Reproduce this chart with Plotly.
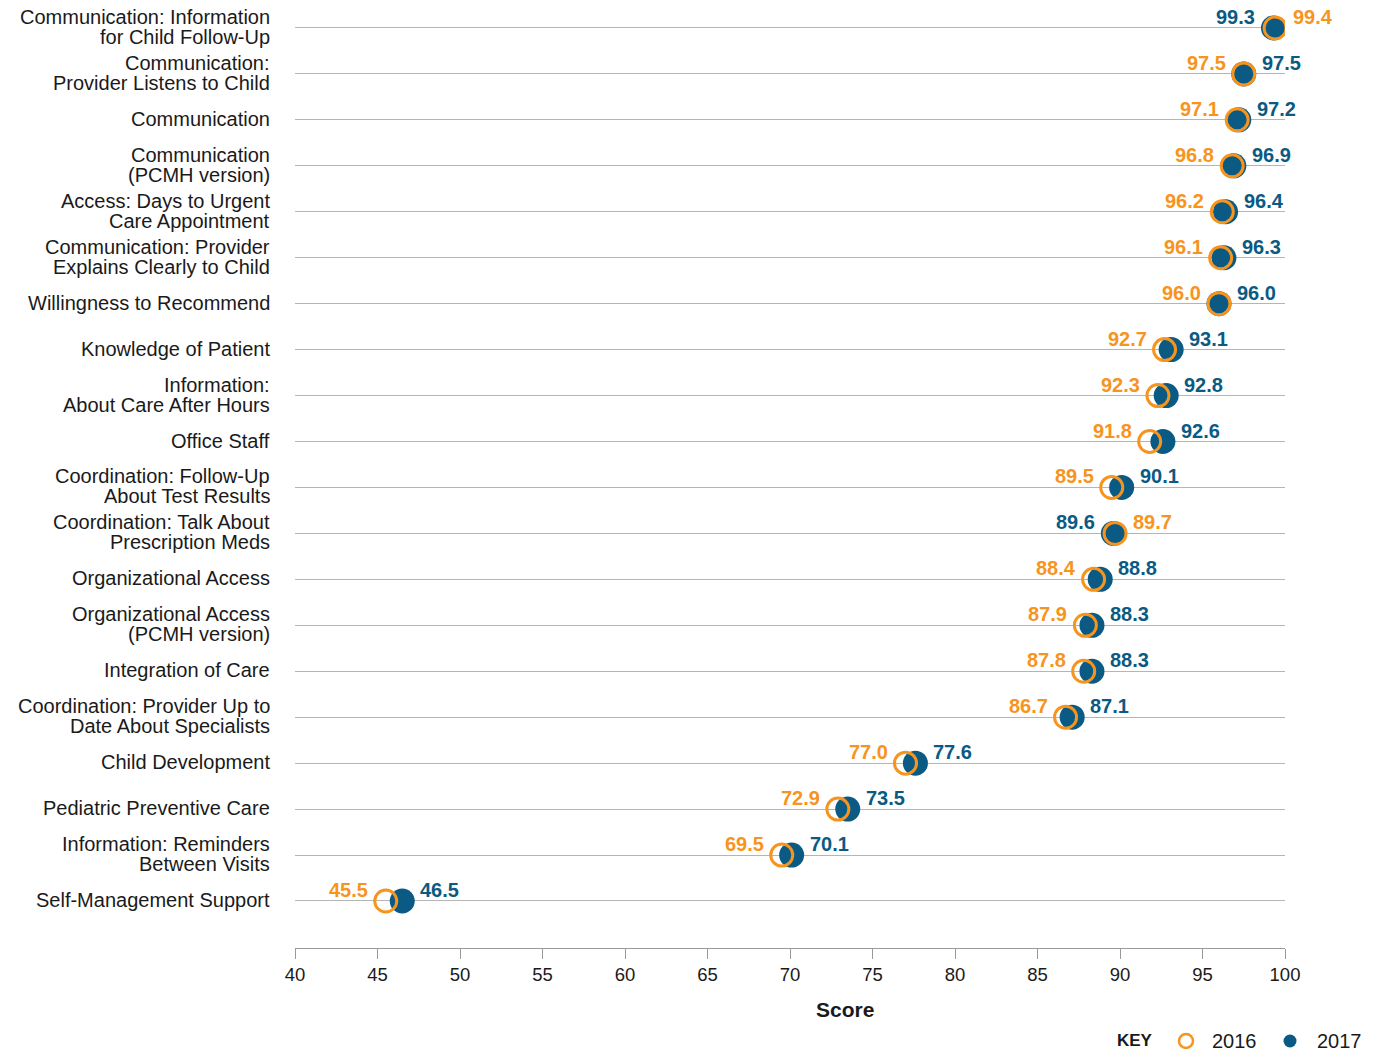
import plotly.graph_objects as go

categories = [
    "Communication: Information<br>for Child Follow-Up",
    "Communication:<br>Provider Listens to Child",
    "Communication",
    "Communication<br>(PCMH version)",
    "Access: Days to Urgent<br>Care Appointment",
    "Communication: Provider<br>Explains Clearly to Child",
    "Willingness to Recommend",
    "Knowledge of Patient",
    "Information:<br>About Care After Hours",
    "Office Staff",
    "Coordination: Follow-Up<br>About Test Results",
    "Coordination: Talk About<br>Prescription Meds",
    "Organizational Access",
    "Organizational Access<br>(PCMH version)",
    "Integration of Care",
    "Coordination: Provider Up to<br>Date About Specialists",
    "Child Development",
    "Pediatric Preventive Care",
    "Information: Reminders<br>Between Visits",
    "Self-Management Support",
]
scores_2016 = [99.4, 97.5, 97.1, 96.8, 96.2, 96.1, 96.0, 92.7, 92.3, 91.8,
               89.5, 89.7, 88.4, 87.9, 87.8, 86.7, 77.0, 72.9, 69.5, 45.5]
scores_2017 = [99.3, 97.5, 97.2, 96.9, 96.4, 96.3, 96.0, 93.1, 92.8, 92.6,
               90.1, 89.6, 88.8, 88.3, 88.3, 87.1, 77.6, 73.5, 70.1, 46.5]
x_ticks = [40, 45, 50, 55, 60, 65, 70, 75, 80, 85, 90, 95, 100]

ORANGE = "#F7941E"
BLUE = "#0A5A84"
TEXT = "#1a1a1a"
BASE_FONT = "Liberation Sans, Arial, Helvetica, sans-serif"

rows = list(range(len(categories)))

fig = go.Figure()
fig.add_trace(go.Scatter(
    x=scores_2017, y=rows, mode="markers", name="2017",
    marker=dict(symbol="circle", size=25, color=BLUE, line=dict(width=0)),
    hoverinfo="x+name", showlegend=False,
))
fig.add_trace(go.Scatter(
    x=scores_2016, y=rows, mode="markers", name="2016",
    marker=dict(symbol="circle-open", size=22, color=ORANGE, line=dict(width=3, color=ORANGE)),
    hoverinfo="x+name", showlegend=False,
))

annotations = []
# category labels, one annotation per line for tight line spacing
for i, cat in enumerate(categories):
    lines = cat.split("<br>")
    if len(lines) == 1:
        shifts = [1]
    else:
        shifts = [11, -9]
    for line, s in zip(lines, shifts):
        annotations.append(dict(
            text=line, xref="paper", x=0, xanchor="right", xshift=-23,
            yref="y", y=i, yanchor="middle", yshift=s, showarrow=False,
            font=dict(family=BASE_FONT, size=20, color=TEXT),
        ))

# value labels
for i, (a, b) in enumerate(zip(scores_2016, scores_2017)):
    if a <= b:
        left = (a, ORANGE)
        right = (b, BLUE)
    else:
        left = (b, BLUE)
        right = (a, ORANGE)
    annotations.append(dict(
        text=f"<b>{left[0]:.1f}</b>", x=left[0], y=i, xref="x", yref="y",
        xanchor="right", xshift=-16, yanchor="middle", yshift=11, showarrow=False,
        font=dict(family=BASE_FONT, size=20, color=left[1]),
    ))
    annotations.append(dict(
        text=f"<b>{right[0]:.1f}</b>", x=right[0], y=i, xref="x", yref="y",
        xanchor="left", xshift=16, yanchor="middle", yshift=11, showarrow=False,
        font=dict(family=BASE_FONT, size=20, color=right[1]),
    ))

# axis title
annotations.append(dict(
    text="<b>Score</b>", xref="paper", yref="paper", x=0.5556, y=-0.0657,
    xanchor="center", yanchor="middle", showarrow=False,
    font=dict(family=BASE_FONT, size=21, color=TEXT),
))
# key
legend_y = -0.0986
annotations += [
    dict(text="<b>KEY</b>", xref="paper", yref="paper", x=0.8485, y=legend_y,
         xanchor="center", yanchor="middle", showarrow=False,
         font=dict(family=BASE_FONT, size=17, color=TEXT)),
    dict(text="2016", xref="paper", yref="paper", x=0.9242, y=legend_y,
         xanchor="left", yanchor="middle", showarrow=False,
         font=dict(family=BASE_FONT, size=20, color=TEXT)),
    dict(text="2017", xref="paper", yref="paper", x=1.0303, y=legend_y,
         xanchor="left", yanchor="middle", showarrow=False,
         font=dict(family=BASE_FONT, size=20, color=TEXT)),
]
shapes = [
    dict(type="circle", xref="paper", yref="paper", xsizemode="pixel", ysizemode="pixel",
         xanchor=0.9, yanchor=legend_y, x0=-7, x1=7, y0=-7, y1=7,
         line=dict(color=ORANGE, width=2.5), fillcolor="rgba(0,0,0,0)"),
    dict(type="circle", xref="paper", yref="paper", xsizemode="pixel", ysizemode="pixel",
         xanchor=1.00505, yanchor=legend_y, x0=-6.5, x1=6.5, y0=-6.5, y1=6.5,
         line=dict(color=BLUE, width=0), fillcolor=BLUE),
]

fig.update_layout(
    width=1376, height=1051,
    margin=dict(l=295, r=91, t=5, b=103),
    paper_bgcolor="white", plot_bgcolor="white",
    font=dict(family=BASE_FONT, color=TEXT),
    annotations=annotations, shapes=shapes,
    showlegend=False,
    xaxis=dict(
        range=[40, 100], tickvals=x_ticks, ticks="outside", ticklen=10,
        tickcolor="#9a9a9a", showline=True, linecolor="#9a9a9a", linewidth=1,
        showgrid=False, zeroline=False,
        tickfont=dict(family=BASE_FONT, size=18.5, color=TEXT),
    ),
    yaxis=dict(
        range=[20.023, -0.5], tickvals=rows, showticklabels=False,
        showgrid=True, gridcolor="#b5b5b5", gridwidth=1, zeroline=False,
        showline=False, ticks="",
    ),
)

fig.write_html(
    "out.html",
    config={"displayModeBar": False},
    post_script="document.body.style.margin='0';document.body.style.overflow='hidden';",
)
